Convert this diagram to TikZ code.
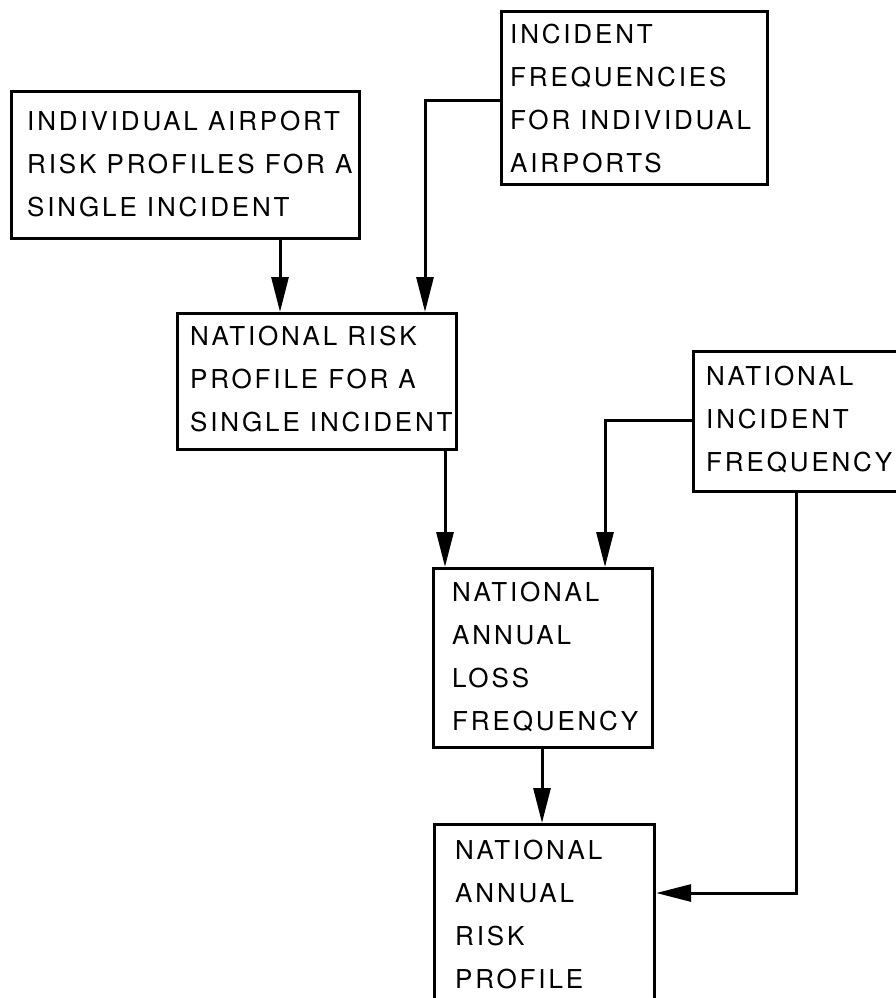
\documentclass[tikz,border=0pt]{standalone}
\usepackage{fontspec}
\setmainfont{TeX Gyre Heros}[LetterSpace=11]
\usetikzlibrary{arrows.meta}

\tikzset{
  box/.style={draw, line width=3.2pt, inner sep=0pt, anchor=north west, rectangle},
  txt/.style={inner sep=0pt, anchor=north west, align=left,
              font=\fontsize{26}{43}\selectfont},
  arr/.style={line width=3pt, -{Triangle[length=35pt, width=17pt]}},
}

\begin{document}
\begin{tikzpicture}[x=1pt, y=-1pt]
  \useasboundingbox (0,0) rectangle (896,998);
  \fill[white] (0,0) rectangle (896,998);

  % boxes
  \node[box, minimum width=348pt, minimum height=147pt] (b1) at (10,90) {};
  \node[box, minimum width=266pt, minimum height=173pt] (b2) at (500,10) {};
  \node[box, minimum width=279pt, minimum height=136pt] (b3) at (176,312) {};
  \node[box, minimum width=215pt, minimum height=140pt] (b4) at (692,350) {};
  \node[box, minimum width=219pt, minimum height=179pt] (b5) at (432,567) {};
  \node[box, minimum width=220pt, minimum height=185pt] (b6) at (433,823) {};

  % labels
  \node[txt] (t1) at (27,111)  {INDIVIDUAL AIRPORT\\RISK PROFILES FOR A\\SINGLE INCIDENT};
  \node[txt] (t2) at (510,24)  {INCIDENT\\FREQUENCIES\\FOR INDIVIDUAL\\AIRPORTS};
  \node[txt] (t3) at (190,326) {NATIONAL RISK\\PROFILE FOR A\\SINGLE INCIDENT};
  \node[txt] (t4) at (706,366) {NATIONAL\\INCIDENT\\FREQUENCY};
  \node[txt] (t5) at (452,582) {NATIONAL\\ANNUAL\\LOSS\\FREQUENCY};
  \node[txt] (t6) at (455,840) {NATIONAL\\ANNUAL\\RISK\\PROFILE};

  % connectors
  \draw[arr] (b1.south -| 280,0) -- (b3.north -| 280,0);
  \draw[arr] (b2.west |- 0,100) -| (b3.north -| 425,0);
  \draw[arr] (b3.south -| 445,0) -- (b5.north -| 445,0);
  \draw[arr] (b4.west |- 0,420) -| (b5.north -| 605,0);
  \draw[arr] (b5.south -| 542,0) -- (b6.north -| 542,0);
  \draw[arr] (b4.south -| 796,0) |- (b6.east |- 0,893);
\end{tikzpicture}
\end{document}
